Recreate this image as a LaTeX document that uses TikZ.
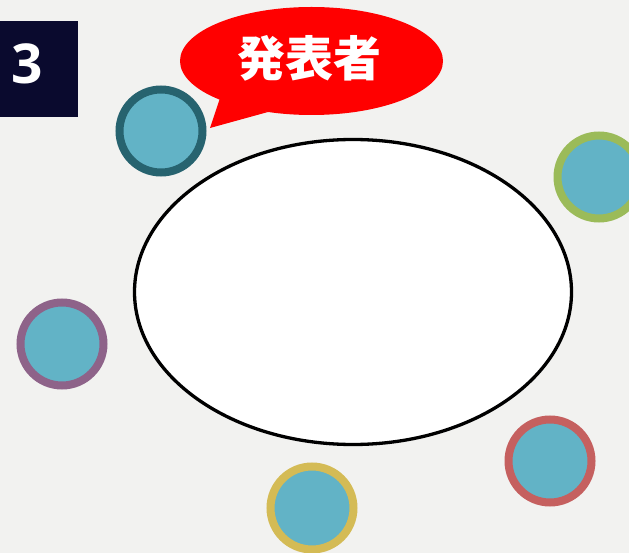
\documentclass[tikz,border=0pt]{standalone}
\usepackage{fontspec}
\usetikzlibrary{shapes.geometric}
\newfontfamily\cjk{Noto Sans CJK JP}
\newfontfamily\numfont{Open Sans}
\definecolor{bggray}{HTML}{F2F2F0}
\definecolor{navy}{HTML}{0A0A2E}
\definecolor{seatfill}{HTML}{62B3C6}
\definecolor{ringteal}{HTML}{27636F}
\definecolor{ringgreen}{HTML}{9BBB59}
\definecolor{ringpurple}{HTML}{8E6389}
\definecolor{ringyellow}{HTML}{D4BB55}
\definecolor{ringred}{HTML}{C5605F}
\tikzset{
  seat/.style={draw=#1, circle, fill=seatfill, line width=8pt, minimum size=83pt, inner sep=0pt}
}
\begin{document}
\begin{tikzpicture}[x=1pt,y=-1pt]
  \fill[bggray] (0,0) rectangle (629,553);
  \clip (0,0) rectangle (629,553);
  \useasboundingbox (0,0) rectangle (629,553);
  \node[fill=navy, minimum width=78pt, minimum height=96pt, inner sep=0pt, anchor=north west] (num) at (0,21) {};
  \node[text=white] at (27,64) {\numfont\bfseries\fontsize{55}{55}\selectfont 3};
  \node[draw, ellipse, line width=3.3pt, fill=white, minimum width=437pt, minimum height=305pt, inner sep=0pt] (table) at (353,292) {};
  \node[seat=ringteal] (S1) at (161,131) {};
  \node[seat=ringgreen] (S2) at (599,177) {};
  \node[seat=ringpurple] (S3) at (62,344) {};
  \node[seat=ringyellow] (S4) at (312,508) {};
  \node[seat=ringred] (S5) at (550,461) {};
  \fill[red] (220,98) -- (210,128) -- (268,112) -- cycle;
  \node[fill=red, ellipse, minimum width=263pt, minimum height=108pt, inner sep=0pt] (bubble) at (311.5,61) {};
  \node[text=white] (speaker) at (309,58) {\cjk\bfseries\fontsize{48}{48}\selectfont 発表者};
\end{tikzpicture}
\end{document}
